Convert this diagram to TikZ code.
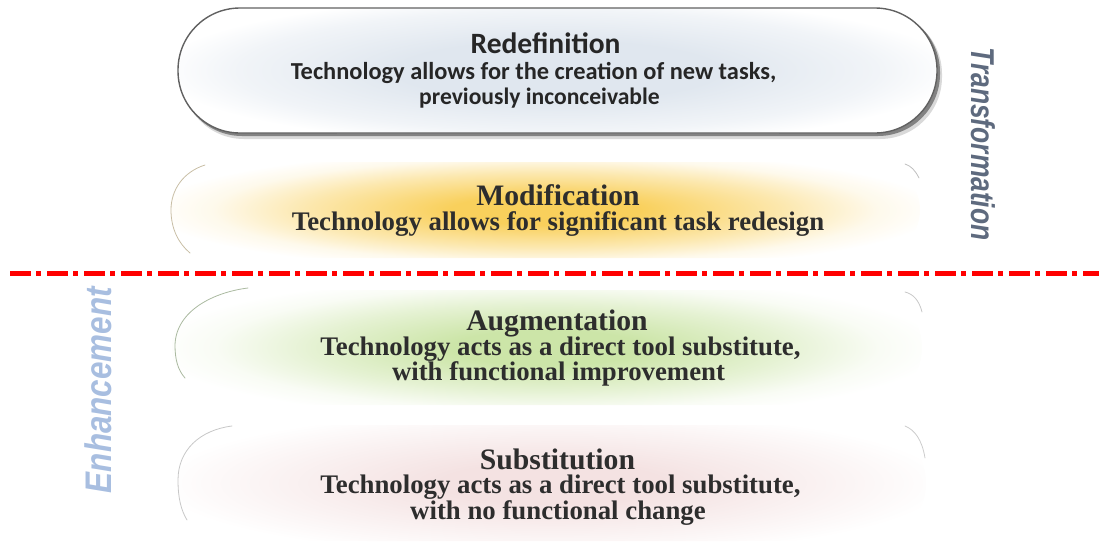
\documentclass[tikz,border=0pt]{standalone}
\usepackage{fontspec}
\setmainfont{Liberation Serif}
\newfontfamily\calfont{Carlito}
\newfontfamily\arfont{Liberation Sans}
\definecolor{rcol}{RGB}{224,231,239}
\definecolor{ycol}{RGB}{249,208,92}
\definecolor{gcol}{RGB}{204,229,168}
\definecolor{pcol}{RGB}{244,226,226}
\definecolor{txt}{RGB}{45,45,45}
\definecolor{trcol}{RGB}{94,106,126}
\definecolor{encol}{RGB}{168,190,224}
\pgfdeclareradialshading{rsh}{\pgfpoint{0bp}{0bp}}{color(0bp)=(rcol); color(20bp)=(rcol); color(40bp)=(rcol!45!white); color(50bp)=(white)}
\pgfdeclareradialshading{ysh}{\pgfpoint{0bp}{0bp}}{color(0bp)=(ycol); color(12bp)=(ycol); color(30bp)=(ycol!50!white); color(42bp)=(ycol!12!white); color(50bp)=(white)}
\pgfdeclareradialshading{gsh}{\pgfpoint{0bp}{0bp}}{color(0bp)=(gcol); color(12bp)=(gcol); color(30bp)=(gcol!50!white); color(42bp)=(gcol!12!white); color(50bp)=(white)}
\pgfdeclareradialshading{psh}{\pgfpoint{0bp}{0bp}}{color(0bp)=(pcol); color(14bp)=(pcol); color(34bp)=(pcol!45!white); color(50bp)=(white)}
\newcommand{\glowfill}[5]{% shading, x, y, w, h
  \node[inner sep=0pt, outer sep=0pt, transform shape, xscale=#4/100.375, yscale=#5/100.375] at (#2,#3) {\pgfuseshading{#1}};}
\tikzset{
  pill/.style={inner sep=0pt, outer sep=0pt},
  serttl/.style={font=\bfseries\fontsize{29.7}{30}\selectfont, text=txt, inner sep=0pt, anchor=base},
  sersub/.style={font=\bfseries\fontsize{26.8}{27}\selectfont, text=txt, inner sep=0pt, anchor=base},
  calttl/.style={font=\calfont\bfseries\fontsize{29.5}{30}\selectfont, text=black!85, inner sep=0pt, anchor=base},
  calsub/.style={font=\calfont\bfseries\fontsize{24}{25}\selectfont, text=black!85, inner sep=0pt, anchor=base},
  faintedge/.style={line width=0.8pt, line cap=round},
  redline/.style={line width=5pt, red, dash pattern=on 21pt off 5pt on 5pt off 6pt}
}
\begin{document}
\begin{tikzpicture}[x=1pt,y=-1pt]
\useasboundingbox (0,0) rectangle (1099,541);

% ---------- Redefinition (top pill with border and shadow)
\path[fill=black, opacity=0.15, rounded corners=62] (182,12) rectangle (942,139);
\path[fill=black, opacity=0.40, rounded corners=62] (180,10) rectangle (940,136);
\path[fill=white, rounded corners=62] (178,8) rectangle (937,133);
\begin{scope}
  \clip[rounded corners=62] (178,8) rectangle (937,133);
  \glowfill{rsh}{557.5}{70.5}{800}{150}
\end{scope}
\node[pill, rounded corners=62, minimum width=759pt, minimum height=125pt,
      draw=black!62, line width=1.4pt] (redef) at (557.5,70.5) {};
\node[calttl] (redefT) at (545.5,53) {Redefinition};
\node[calsub, font=\calfont\bfseries\fontsize{24.4}{25}\selectfont] (redefA) at (533.5,79) {Technology allows for the creation of new tasks,};
\node[calsub, font=\calfont\bfseries\fontsize{23.6}{25}\selectfont] (redefB) at (539.5,104) {previously inconceivable};

% ---------- Modification
\begin{scope}
  \clip[rounded corners=48] (170,162) rectangle (920,258);
  \glowfill{ysh}{545}{210}{790}{122}
\end{scope}
\node[pill, rounded corners=48, minimum width=750pt, minimum height=96pt] (modif) at (545,210) {};
\draw[faintedge, draw={rgb,255:red,200;green,190;blue,165}]
  (205,165) .. controls (183,172) and (171,190) .. (171,210) .. controls (171,228) and (178,243) .. (190,253);
\draw[faintedge, draw=black!25] (905,164) .. controls (911,166) and (915,170) .. (919,178);
\node[serttl] (modifT) at (558,205) {Modification};
\node[sersub] (modifA) at (558,230) {Technology allows for significant task redesign};

% ---------- dash-dot divider
\coordinate (divL) at (10,273);
\coordinate (divR) at (1099,273);
\draw[redline] (divL) -- (divR);

% ---------- Augmentation
\begin{scope}
  \clip[rounded corners=57] (172,290) rectangle (922,405);
  \glowfill{gsh}{547}{347.5}{790}{146}
\end{scope}
\node[pill, rounded corners=57, minimum width=750pt, minimum height=115pt] (augm) at (547,347.5) {};
\draw[faintedge, draw={rgb,255:red,170;green,185;blue,160}]
  (248,288) .. controls (215,292) and (176,310) .. (175,345) .. controls (175,360) and (178,370) .. (185,378);
\draw[faintedge, draw=black!22] (905,292) .. controls (913,294) and (919,300) .. (922,312);
\node[serttl] (augmT) at (557,330) {Augmentation};
\node[sersub] (augmA) at (560.5,355) {Technology acts as a direct tool substitute,};
\node[sersub] (augmB) at (558.5,380.5) {with functional improvement};

% ---------- Substitution
\begin{scope}
  \clip[rounded corners=57] (178,425) rectangle (926,541);
  \glowfill{psh}{552}{483}{790}{148}
\end{scope}
\node[pill, rounded corners=57, minimum width=748pt, minimum height=116pt] (subst) at (552,483) {};
\draw[faintedge, draw=black!22]
  (232,426) .. controls (200,430) and (178,450) .. (178,480) .. controls (178,498) and (181,510) .. (187,520);
\draw[faintedge, draw=black!20] (905,426) .. controls (915,430) and (922,440) .. (925,458);
\node[serttl] (substT) at (557.5,469) {Substitution};
\node[sersub] (substA) at (560.5,493.5) {Technology acts as a direct tool substitute,};
\node[sersub] (substB) at (558,519) {with no functional change};

% ---------- side labels
\node[rotate=-90, inner sep=0pt, text=trcol, font=\arfont\bfseries\itshape\fontsize{33}{33}\selectfont]
  (transf) at (983,144) {\scalebox{0.8}[1]{Transformation}};
\node[rotate=90, inner sep=0pt, text=encol, font=\arfont\bfseries\itshape\fontsize{37}{37}\selectfont]
  (enh) at (98,390) {\scalebox{0.85}[1]{Enhancement}};
\end{tikzpicture}
\end{document}
